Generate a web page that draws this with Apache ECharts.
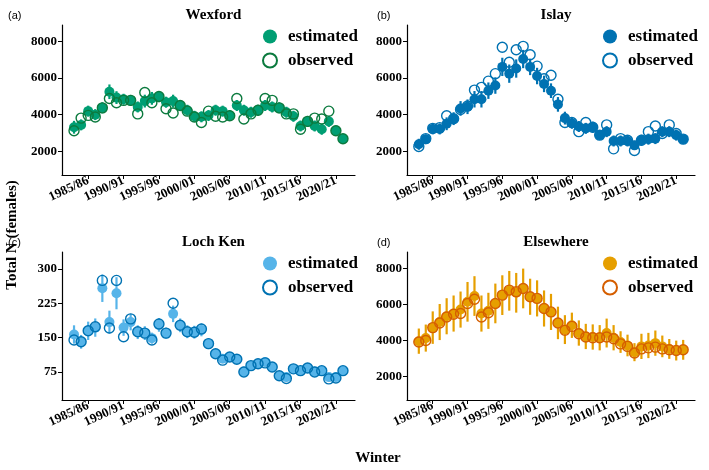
<!DOCTYPE html>
<html><head><meta charset="utf-8">
<script src="https://cdn.jsdelivr.net/npm/echarts@6/dist/echarts.min.js"></script>
<style>html,body{margin:0;padding:0;background:#fff}#c{width:709px;height:470px}</style>
</head><body><div id="c"></div>
<script>
var years = [];
for (var y = 1983; y <= 2021; y++) years.push(y);
var xTicks = [1985, 1990, 1995, 2000, 2005, 2010, 2015, 2020];

var wexEst = [3310,3440,4190,4000,4370,5250,4930,4840,4780,4420,4740,4890,4980,4680,4740,4500,4240,3910,3880,3950,4240,4190,3950,4500,4240,4130,4240,4500,4420,4370,4130,3910,3380,3630,3380,3200,3630,3130,2680];
var wexObs = [3120,3810,3960,3870,4370,4880,4650,4780,4780,4040,5210,4650,4990,4320,4090,4500,4190,3870,3570,4190,3910,3870,3940,4880,3760,4040,4240,4880,4780,4370,4040,4040,3200,3630,3810,3760,4190,3120,2680];
var wexErr = [350,300,300,300,300,400,350,300,300,300,350,350,300,300,350,300,300,300,300,300,300,300,300,300,300,300,300,300,300,300,300,300,300,300,300,300,300,250,200];

var islEst = [2380,2660,3220,3220,3500,3780,4340,4430,4840,4840,5310,5590,6610,6240,6520,7040,6610,6110,5680,5310,4560,3810,3530,3350,3250,3310,2880,3070,2560,2560,2560,2320,2600,2660,2690,3070,3070,2880,2660];
var islObs = [2260,2690,3250,3290,3940,3780,4280,4470,5340,5490,5830,6240,7680,6860,7550,7730,7270,6650,5960,6150,4840,3570,3570,3070,3570,3310,2880,3440,2130,2690,2600,2040,2600,3070,3380,2970,3440,2970,2660];
var islErr = [300,250,300,300,350,350,400,400,450,450,450,450,500,500,500,500,450,450,450,400,400,350,300,300,300,300,250,300,300,300,300,250,300,300,300,300,300,300,250];

var lkEst = [157,141,165,172,258,184,247,172,184,162,160,149,178,160,202,177,163,162,167,137,115,104,108,103,76,89,93,97,86,67,64,82,78,84,76,78,64,64,78];
var lkObs = [145,141,165,174,275,171,275,152,191,163,160,145,180,160,225,177,163,162,169,137,115,101,108,103,75,89,93,95,86,67,61,82,78,84,75,78,60,62,78];
var lkErr = [20,15,20,20,30,25,35,18,18,15,15,12,15,12,18,15,14,14,14,12,10,8,8,8,8,8,8,10,8,6,6,8,8,8,8,8,6,6,8];

var elsEst = [3960,4130,4710,5020,5340,5490,5710,6140,6460,5490,5640,6050,6510,6750,6640,6880,6420,6330,5770,5580,4970,4600,4840,4410,4220,4190,4150,4410,4150,3910,3720,3350,3670,3720,3850,3670,3530,3440,3480];
var elsObs = [3910,4000,4710,4970,5300,5450,5490,6050,6280,5300,5530,6050,6510,6790,6700,6880,6420,6330,5770,5580,4970,4560,4780,4370,4190,4150,4150,4190,4090,3810,3670,3300,3530,3590,3630,3530,3480,3440,3480];
var elsErr = [700,750,900,1000,1000,1000,1000,1100,1100,1000,1000,1100,1100,1100,1100,1100,1000,1000,1000,1000,900,800,700,700,700,700,700,800,700,600,600,500,700,700,700,600,550,550,550];

var panels = [
  {key:'a', title:'Wexford', est:wexEst, obs:wexObs, err:wexErr, fill:'#009E73', ring:'#0B7A3E', ymin:700, ymax:8900, yTicks:[2000,4000,6000,8000]},
  {key:'b', title:'Islay', est:islEst, obs:islObs, err:islErr, fill:'#0072B2', ring:'#0072B2', ymin:700, ymax:8900, yTicks:[2000,4000,6000,8000]},
  {key:'c', title:'Loch Ken', est:lkEst, obs:lkObs, err:lkErr, fill:'#56B4E9', ring:'#0072B2', ymin:14, ymax:337, yTicks:[75,150,225,300]},
  {key:'d', title:'Elsewhere', est:elsEst, obs:elsObs, err:elsErr, fill:'#E69F00', ring:'#D55E00', ymin:700, ymax:8900, yTicks:[2000,4000,6000,8000]}
];
var boxes = [
  {left:62, top:25, width:293, height:150},
  {left:407, top:25, width:288, height:150},
  {left:62, top:252, width:293, height:148},
  {left:407, top:252, width:288, height:148}
];

var serif = 'Liberation Serif';
var opt = {
  animation:false, backgroundColor:'#fff',
  grid:[], xAxis:[], yAxis:[], series:[], title:[], legend:[],
  graphic:[
    {type:'text', x:12, y:235, rotation:Math.PI/2, style:{text:'Total N (females)', font:'bold 15px "Liberation Serif"', fill:'#000', align:'center', verticalAlign:'middle'}},
    {type:'text', x:378, y:458, style:{text:'Winter', font:'bold 15px "Liberation Serif"', fill:'#000', align:'center', verticalAlign:'middle'}}
  ]
};

panels.forEach(function(p, i){
  var b = boxes[i];
  opt.grid.push(b);
  opt.xAxis.push({type:'value', gridIndex:i, min:1981.3, max:2022.7,
    axisLine:{lineStyle:{color:'#000', width:1.2}}, splitLine:{show:false},
    axisTick:{customValues:xTicks, length:4, lineStyle:{color:'#000'}},
    axisLabel:{customValues:xTicks, rotate:25, color:'#000', fontFamily:serif, fontWeight:'bold', fontSize:13, margin:5,
      formatter:function(v){ var n = (v+1)%100; return v + '/' + (n<10?'0':'') + n; }}});
  opt.yAxis.push({type:'value', gridIndex:i, min:p.ymin, max:p.ymax,
    axisLine:{show:true, lineStyle:{color:'#000', width:1.2}}, splitLine:{show:false},
    axisTick:{show:true, customValues:p.yTicks, length:4, lineStyle:{color:'#000'}},
    axisLabel:{customValues:p.yTicks, color:'#000', fontFamily:serif, fontWeight:'bold', fontSize:13, margin:5,
      formatter:function(v){ return String(v); }}});
  opt.title.push({text:p.title, left:b.left + b.width/2, top:b.top - 22, textAlign:'center',
    textStyle:{fontFamily:serif, fontWeight:'bold', fontSize:15, color:'#000'}});
  opt.title.push({text:'(' + p.key + ')', left:i%2 ? 372 : 3, top:b.top - 20,
    textStyle:{fontFamily:'Liberation Sans', fontWeight:'normal', fontSize:11, color:'#000'}});
  var bars = years.map(function(yr, k){ return [yr, p.est[k] - p.err[k], p.est[k] + p.err[k]]; });
  opt.series.push({type:'custom', xAxisIndex:i, yAxisIndex:i, data:bars, silent:true,
    renderItem:function(params, api){
      var a = api.coord([api.value(0), api.value(1)]), c = api.coord([api.value(0), api.value(2)]);
      return {type:'line', shape:{x1:a[0], y1:a[1], x2:c[0], y2:c[1]}, style:{stroke:p.fill, lineWidth:2.2}};
    }});
  opt.series.push({name:'estimated|' + p.key, type:'scatter', xAxisIndex:i, yAxisIndex:i, symbolSize:10,
    data:years.map(function(yr,k){return [yr, p.est[k]];}), itemStyle:{color:p.fill, opacity:1}});
  opt.series.push({name:'observed|' + p.key, type:'scatter', xAxisIndex:i, yAxisIndex:i, symbolSize:10,
    data:years.map(function(yr,k){return [yr, p.obs[k]];}), itemStyle:{color:'rgba(0,0,0,0)', borderColor:p.ring, borderWidth:1.4, opacity:1}});
  opt.legend.push({data:['estimated|' + p.key, 'observed|' + p.key], orient:'vertical',
    left:b.left + b.width - 98, top:b.top - 2, itemGap:7, itemWidth:14, itemHeight:14, icon:'circle',
    formatter:function(n){ return n.split('|')[0]; },
    textStyle:{fontFamily:serif, fontWeight:'bold', fontSize:17, color:'#000', padding:[0,0,0,6]}});
});

var chart = echarts.init(document.getElementById('c'));
chart.setOption(opt);
</script></body></html>
